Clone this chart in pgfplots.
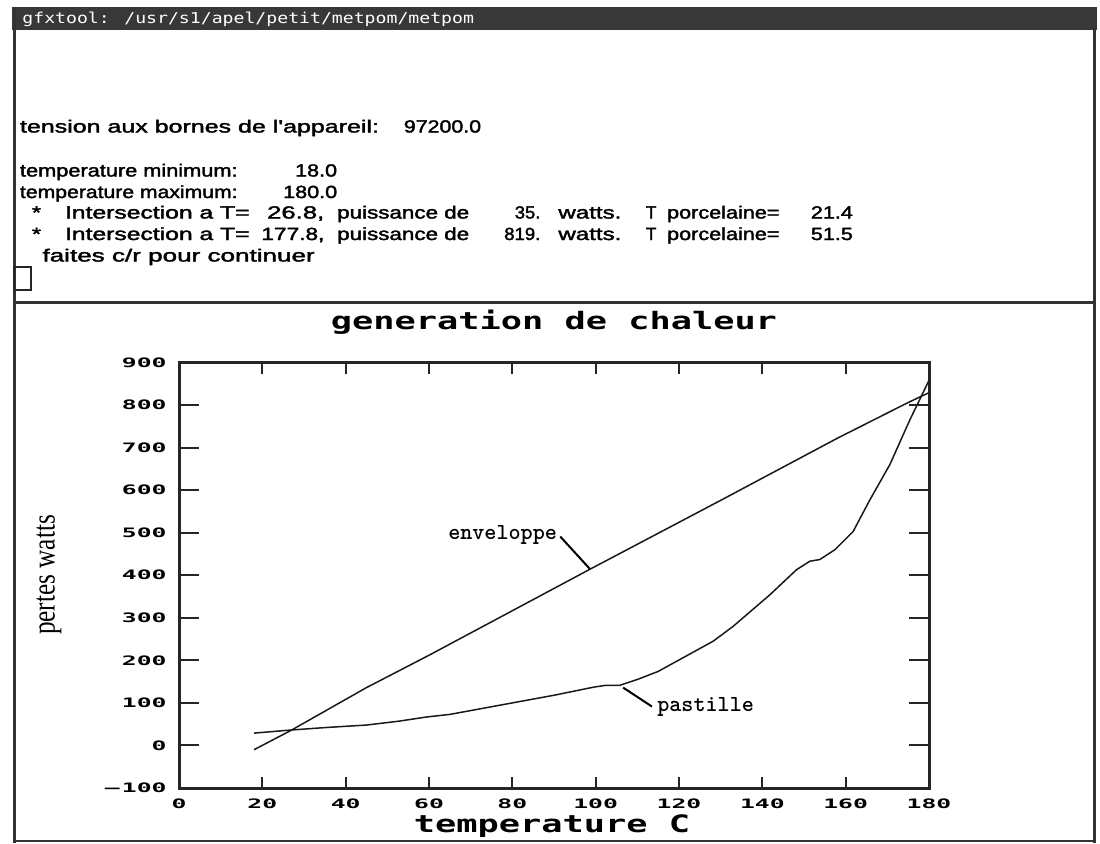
\documentclass[border=0pt]{standalone}
\usepackage{pgfplots}
\pgfplotsset{compat=1.18}
\usepackage{pgfplotstable}
\usepackage{fontspec}
\setmainfont{Liberation Sans}
\newfontfamily\termfont[FakeBold=1.8]{Liberation Sans}
\newfontfamily\barfont[FakeStretch=1.21]{DejaVu Sans Mono}
\newfontfamily\blockfont[FakeStretch=1.47]{DejaVu Sans Mono Bold}
\newfontfamily\tickfont[FakeStretch=1.9]{DejaVu Sans Mono Bold}
\newfontfamily\labfont{Liberation Serif}
\newfontfamily\notefontface{lmmonolt10-bold.otf}

% pertes de l'enveloppe (watts) en fonction de la temperature (C)
\pgfplotstableread{
T P
18 -10
26.8 35
45 136
60 212
98.6 414
130 576
158 722
174.6 804
177.8 819
180 829
}\enveloppe

% generation de chaleur de la pastille
\pgfplotstableread{
T P
18 29
26.5 36
35 42
45 48
52.7 57
59.5 67
65 73
80 100
90 118
99.5 137
102.2 141
105.7 141
110 155
115 174
120.2 202
128.2 245
133 280
141.8 354
148.2 413
151.4 433
153.8 437
157.4 460
161.8 503
165.8 577
170.6 660
175.4 765
180 858
}\pastille

% terminal text: left edge x, baseline y, width (screen pixels), text
\newcommand\tx[4]{\node[anchor=base west,inner sep=0pt,
  font=\termfont\fontsize{8.8}{8.8}\selectfont] at (#1,#2)
  {\resizebox{#3pt}{\height}{#4}};}
% typewriter annotation font
\newcommand\notefont{\notefontface\fontsize{11.5}{11.5}\selectfont}

\begin{document}
\begin{tikzpicture}
\begin{scope}[x=0.5pt,y=-0.5pt]
  \fill[white] (0,0) rectangle (1100,843);
  \useasboundingbox (0,0) rectangle (1100,843);
  % window title bar
  \fill[black!78] (12,7) rectangle (1097,30);
  \node[anchor=base west,inner sep=0pt,text=white,
    font=\barfont\fontsize{7.5}{7.5}\selectfont] at (22,23)
    {gfxtool: /usr/s1/apel/petit/metpom/metpom};
  % window frame
  \draw[black!80,line width=1.5pt] (14.5,7) -- (14.5,843);
  \draw[black!80,line width=1.5pt] (1094.5,28) -- (1094.5,843);
  \draw[black!80,line width=1.5pt] (14,302) -- (1095,302);
  \draw[black!80,line width=1pt] (14,840.5) -- (1095,840.5);
  \draw[black!85,line width=1pt] (14,267) rectangle (31,290);
  % terminal output (widths in pt = pixels/2)
  \tx{19.6}{132.5}{179.5}{tension aux bornes de l'appareil:}
  \tx{403.5}{132.5}{38.6}{97200.0}
  \tx{19.6}{176.5}{108.8}{temperature minimum:}
  \tx{294.7}{176.5}{21}{18.0}
  \tx{19.6}{198}{108.8}{temperature maximum:}
  \tx{282.8}{198}{27}{180.0}
  \tx{31.6}{218.5}{4.5}{*}
  \tx{64.6}{218.5}{92.3}{Intersection a T=}
  \tx{266.7}{218.5}{28.6}{26.8,}
  \tx{336.8}{218.5}{66}{puissance de}
  \tx{514.4}{218.5}{12.8}{35.}
  \tx{558}{218.5}{31.5}{watts.}
  \tx{645.6}{218.5}{5.2}{T}
  \tx{666.7}{218.5}{56.2}{porcelaine=}
  \tx{810.5}{218.5}{21}{21.4}
  \tx{31.6}{240}{4.5}{*}
  \tx{64.6}{240}{92.3}{Intersection a T=}
  \tx{261}{240}{31.5}{177.8,}
  \tx{336.8}{240}{66}{puissance de}
  \tx{503.9}{240}{18}{819.}
  \tx{558}{240}{31.5}{watts.}
  \tx{645.6}{240}{5.2}{T}
  \tx{666.7}{240}{56.2}{porcelaine=}
  \tx{810.5}{240}{21}{51.5}
  \tx{42.1}{261.5}{136.1}{faites c/r pour continuer}
  % plot titles
  \node[inner sep=0pt,font=\blockfont\fontsize{12}{12}\selectfont]
    at (554,322) {generation de chaleur};
  \node[inner sep=0pt,font=\blockfont\fontsize{12}{12}\selectfont]
    at (552,826) {temperature C};
  \node[inner sep=0pt,rotate=90] at (49,575)
    {\scalebox{0.9}[1.15]{\labfont\fontsize{14}{14}\selectfont pertes watts}};
\end{scope}

% y ticks (long) on both sides
\begin{axis}[
  at={(89.5pt,-394pt)}, anchor=south west,
  scale only axis, width=375pt, height=212.75pt,
  xmin=0, xmax=180, ymin=-100, ymax=900,
  hide x axis, axis line style={draw=none},
  xtick=\empty,
  ytick={-100,0,100,200,300,400,500,600,700,800,900},
  yticklabels={{\textendash\,100},0,100,200,300,400,500,600,700,800,900},
  major tick length=10pt, tick align=inside, ytick pos=both,
  tick style={line width=1pt,black!85},
  yticklabel style={anchor=east,inner sep=0pt,xshift=-6pt,
    font=\tickfont\fontsize{6.5}{6.5}\selectfont},
]
\end{axis}

% main axis with the two curves
\begin{axis}[
  at={(89.5pt,-394pt)}, anchor=south west,
  scale only axis, width=375pt, height=212.75pt,
  xmin=0, xmax=180, ymin=-100, ymax=900,
  axis line style={line width=1.5pt,black!85},
  xtick={0,20,40,60,80,100,120,140,160,180}, ytick=\empty,
  xticklabels={0,20,40,60,80,100,120,140,160,180},
  major tick length=5.5pt, tick align=inside, xtick pos=both,
  tick style={line width=1pt,black!85},
  xticklabel style={anchor=north,inner sep=0pt,yshift=-5pt,
    font=\tickfont\fontsize{6.5}{6.5}\selectfont},
  clip=false,
]
\addplot[black!90,line width=0.75pt] table[x=T,y=P] {\enveloppe};
\addplot[black!90,line width=0.75pt] table[x=T,y=P] {\pastille};
\node[anchor=east,inner sep=0pt,font=\notefont]
  at (axis cs:90.8,495) {enveloppe};
\draw[black,line width=1pt] (axis cs:91.5,491) -- (axis cs:98.6,415);
\node[anchor=west,inner sep=0pt,font=\notefont]
  at (axis cs:114.7,91.5) {pastille};
\draw[black,line width=1pt] (axis cs:106.6,136) -- (axis cs:113.5,91.5);
\end{axis}
\end{tikzpicture}
\end{document}
